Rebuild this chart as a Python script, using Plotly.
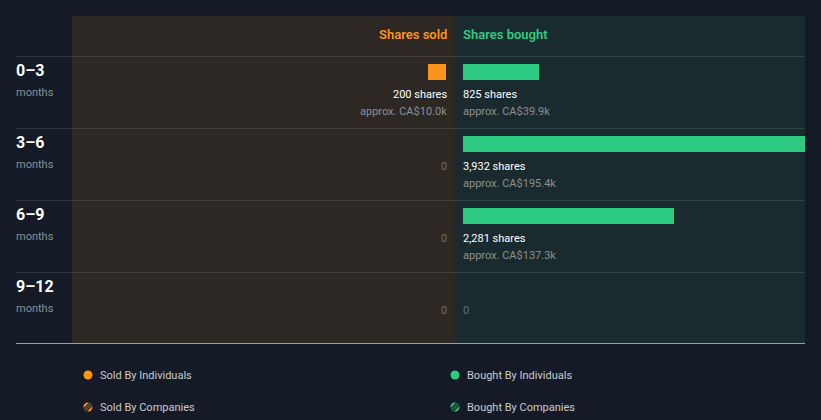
import plotly.graph_objects as go

# ---- data ----
periods = ["0–3", "3–6", "6–9", "9–12"]
period_unit = ["months", "months", "months", "months"]
sold_shares = [200, 0, 0, 0]
sold_value = ["CA$10.0k", None, None, None]
bought_shares = [825, 3932, 2281, 0]
bought_value = ["CA$39.9k", "CA$195.4k", "CA$137.3k", None]
legend_sold = ["Sold By Individuals", "Sold By Companies"]
legend_bought = ["Bought By Individuals", "Bought By Companies"]

W, H = 821, 420
BG = "#151b26"
SOLD_BG = "#2d2823"
BOUGHT_BG = "#192b2e"
ORANGE = "#fd9419"
GREEN = "#2ecc82"
FONT = "Roboto"

ROW_H = 72.0
ROW0_CENTER = 92.0
K = 0.0925  # px per share

def px_x(p):
    return p / W

def px_y(p):
    return 1 - p / H

rows = list(range(len(periods)))

fig = go.Figure()
fig.add_trace(go.Bar(
    y=rows, x=sold_shares, orientation="h", xaxis="x", yaxis="y",
    width=16 / ROW_H, offset=-28 / ROW_H, marker=dict(color=ORANGE, line=dict(width=0)),
    hoverinfo="skip", showlegend=False))
fig.add_trace(go.Bar(
    y=rows, x=bought_shares, orientation="h", xaxis="x2", yaxis="y",
    width=16 / ROW_H, offset=-28 / ROW_H, marker=dict(color=GREEN, line=dict(width=0)),
    hoverinfo="skip", showlegend=False))

sold_l, sold_r = 72, 446
buy_l, buy_r = 463, 805
y_top = -ROW0_CENTER / ROW_H
y_bot = (H - ROW0_CENTER) / ROW_H

shapes = [
    dict(type="rect", xref="paper", yref="paper", x0=px_x(72), x1=px_x(455), y0=px_y(343), y1=px_y(16),
         fillcolor=SOLD_BG, line=dict(width=0), layer="below"),
    dict(type="rect", xref="paper", yref="paper", x0=px_x(455), x1=px_x(805), y0=px_y(343), y1=px_y(16),
         fillcolor=BOUGHT_BG, line=dict(width=0), layer="below"),
]
for yy in [56.5, 128.5, 200.5, 272.5]:
    shapes.append(dict(type="line", xref="paper", yref="paper", x0=px_x(16), x1=px_x(805),
                       y0=px_y(yy), y1=px_y(yy), line=dict(color="rgba(255,255,255,0.1)", width=1), layer="below"))
shapes.append(dict(type="line", xref="paper", yref="paper", x0=px_x(16), x1=px_x(805),
                   y0=px_y(343.5), y1=px_y(343.5), line=dict(color="#9aa0a6", width=1)))

SHIFT = {"x": 2, "x2": -1}
ann = []
# headers
ann.append(dict(text="Shares sold", xref="x", x=0, yref="y", y=(34.5 - ROW0_CENTER) / ROW_H,
                xanchor="right", yanchor="middle", showarrow=False, borderpad=0, xshift=2,
                font=dict(family=FONT, size=13, color=ORANGE, weight=600)))
ann.append(dict(text="Shares bought", xref="x2", x=0, yref="y", y=(34.5 - ROW0_CENTER) / ROW_H,
                xanchor="left", yanchor="middle", showarrow=False, borderpad=0, xshift=-1,
                font=dict(family=FONT, size=13, color=GREEN, weight=600)))

for i in rows:
    ann.append(dict(text=periods[i], xref="paper", x=px_x(14), yref="y", y=i + (70 - ROW0_CENTER) / ROW_H,
                    xanchor="left", yanchor="middle", showarrow=False,
                    font=dict(family=FONT, size=16, color="#ffffff", weight="bold")))
    ann.append(dict(text=period_unit[i], xref="paper", x=px_x(14), yref="y", y=i + (92 - ROW0_CENTER) / ROW_H,
                    xanchor="left", yanchor="middle", showarrow=False,
                    font=dict(family=FONT, size=11, color="#8a8f98")))
    for shares, val, xr, anc in [(sold_shares[i], sold_value[i], "x", "right"),
                                 (bought_shares[i], bought_value[i], "x2", "left")]:
        if shares > 0:
            ann.append(dict(text=f"{shares:,} shares", xref=xr, x=0, yref="y", y=i + (94 - ROW0_CENTER) / ROW_H,
                            xanchor=anc, yanchor="middle", showarrow=False, borderpad=0, xshift=SHIFT[xr],
                            font=dict(family=FONT, size=11, color="#ffffff")))
            ann.append(dict(text=f"approx. {val}", xref=xr, x=0, yref="y", y=i + (111.5 - ROW0_CENTER) / ROW_H,
                            xanchor=anc, yanchor="middle", showarrow=False, borderpad=0, xshift=SHIFT[xr],
                            font=dict(family=FONT, size=11, color="#8c8f94")))
        else:
            ann.append(dict(text="0", xref=xr, x=0, yref="y", y=i + (94 - ROW0_CENTER) / ROW_H,
                            xanchor=anc, yanchor="middle", showarrow=False, borderpad=0, xshift=SHIFT[xr],
                            font=dict(family=FONT, size=11, color="#6b6e72")))

# legend
leg_items = [(legend_sold[0], 88, 375, ORANGE, False), (legend_sold[1], 88, 407, ORANGE, True),
             (legend_bought[0], 455, 375, GREEN, False), (legend_bought[1], 455, 407, GREEN, True)]
for text, cx, cy, col, hatched in leg_items:
    r = 4.5
    shapes.append(dict(type="circle", xref="paper", yref="paper",
                       x0=px_x(cx - r), x1=px_x(cx + r), y0=px_y(cy + r), y1=px_y(cy - r),
                       fillcolor=col, line=dict(width=0)))
    if hatched:
        for d in (-2.6, 0.0, 2.6):
            shapes.append(dict(type="line", xref="paper", yref="paper",
                               x0=px_x(cx - 6 + d), x1=px_x(cx + 6 + d),
                               y0=px_y(cy + 6), y1=px_y(cy - 6),
                               line=dict(color=BG, width=1.2)))
    ann.append(dict(text=text, xref="paper", x=px_x(cx + 11), yref="paper", y=px_y(cy),
                    xanchor="left", yanchor="middle", showarrow=False, borderpad=0,
                    font=dict(family=FONT, size=11, color="#c9cbcf")))

axis_common = dict(showgrid=False, zeroline=False, showticklabels=False, showline=False, ticks="", fixedrange=True)
fig.update_layout(
    width=W, height=H, margin=dict(l=0, r=0, t=0, b=0),
    paper_bgcolor=BG, plot_bgcolor="rgba(0,0,0,0)",
    barmode="overlay", bargap=0,
    xaxis=dict(domain=[px_x(sold_l), px_x(sold_r)], range=[(sold_r - sold_l) / K, 0], anchor="y", **axis_common),
    xaxis2=dict(domain=[px_x(buy_l), px_x(buy_r)], range=[0, (buy_r - buy_l) / K], anchor="y", **axis_common),
    yaxis=dict(domain=[0, 1], range=[y_bot, y_top], **axis_common),
    shapes=shapes, annotations=ann, showlegend=False,
)

fig.write_html("out.html")
